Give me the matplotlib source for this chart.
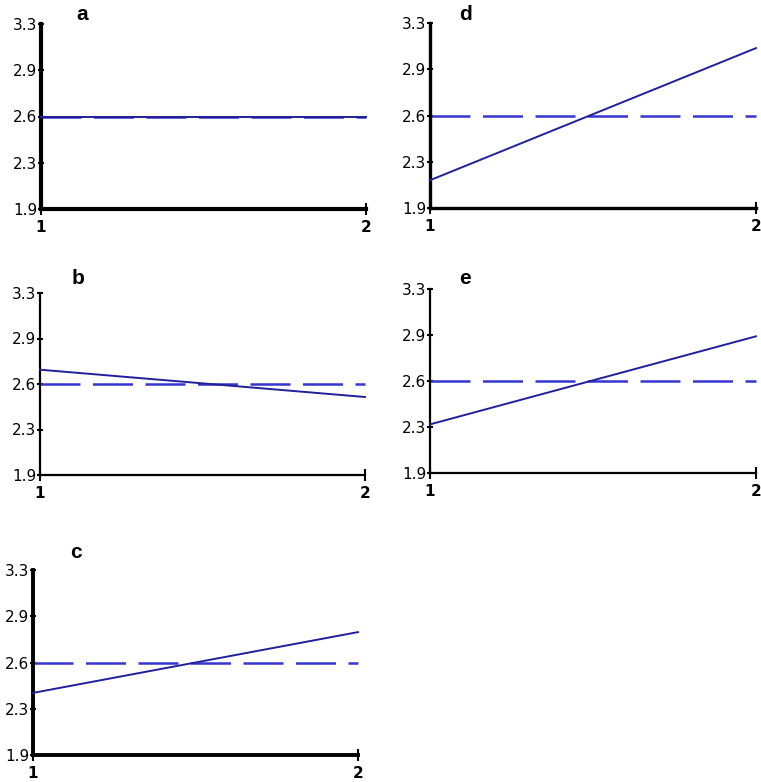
import matplotlib
matplotlib.use("Agg")
import matplotlib.pyplot as plt
import numpy as np

# data
panels = ["a", "b", "c", "d", "e"]
x = [1, 2]
start_vals = [2.60, 2.71, 2.37, 2.11, 2.27]
end_vals = [2.60, 2.50, 2.83, 3.11, 2.94]
ref_level = 2.6
ytick_labels = ["1.9", "2.3", "2.6", "2.9", "3.3"]
xtick_labels = ["1", "2"]

W, H = 761, 782
fig = plt.figure(figsize=(W / 100, H / 100), dpi=100)

# axes boxes in pixels: left, right, top, bottom
boxes = {
    "a": (41, 366, 24, 209),
    "b": (40, 365, 293, 475),
    "c": (33, 358, 570, 755),
    "d": (430, 756, 23, 208),
    "e": (430, 756, 289, 473),
}
# panel letter centres in pixels
letter_pos = {"a": (82, 14), "b": (78, 278), "c": (76, 553),
              "d": (465, 14), "e": (465, 278)}
spine_w = {"a": 3.0, "b": 1.6, "c": 2.8, "d": 2.4, "e": 1.6}

solid_col = "#20209a"
dash_col = "#3535d0"

for name, y0, y1 in zip(panels, start_vals, end_vals):
    l, r, t, b = boxes[name]
    ax = fig.add_axes([l / W, 1 - b / H, (r - l) / W, (b - t) / H])
    ax.plot(x, [ref_level, ref_level], color=dash_col, lw=1.8,
            dashes=(16, 5), clip_on=False, zorder=2)
    ax.plot(x, [y0, y1], color=solid_col, lw=1.4, clip_on=False, zorder=3)
    ax.set_xlim(1, 2)
    ax.set_ylim(1.9, 3.3)
    ax.set_yticks(np.linspace(1.9, 3.3, 5))
    ax.set_yticklabels(ytick_labels)
    ax.set_xticks(x)
    ax.set_xticklabels(xtick_labels, fontweight="bold")
    for s in ["top", "right"]:
        ax.spines[s].set_visible(False)
    for s in ["left", "bottom"]:
        ax.spines[s].set_linewidth(spine_w[name])
        ax.spines[s].set_color("black")
    ax.tick_params(axis="y", direction="inout", length=5, width=1.5,
                   labelsize=11, pad=0)
    ax.tick_params(axis="x", direction="inout", length=8, width=1.5,
                   labelsize=11, pad=4)
    ax.patch.set_visible(False)
    lx, ly = letter_pos[name]
    fig.text(lx / W, 1 - ly / H, name, fontsize=15,
             fontweight="bold", family="Liberation Sans",
             ha="center", va="center")

plt.savefig("out.png", dpi=100)
print("Saved out.png")
